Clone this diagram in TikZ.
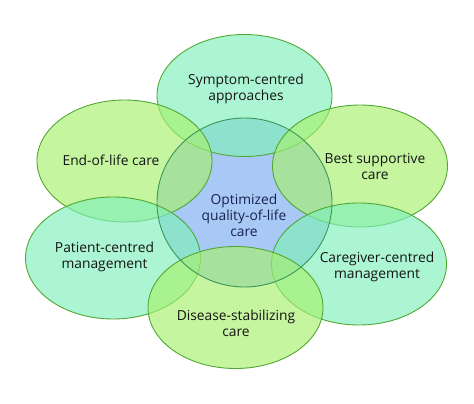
\documentclass[tikz,border=0pt]{standalone}
\usepackage{fontspec}
\setmainfont{Open Sans}
\usetikzlibrary{shapes.geometric}

\definecolor{limefill}{RGB}{167,240,109}
\definecolor{mintfill}{RGB}{127,240,186}
\definecolor{corefill}{RGB}{168,200,245}
\definecolor{rimline}{RGB}{82,168,52}
\definecolor{coreline}{RGB}{60,150,90}
\definecolor{coretext}{RGB}{24,36,78}

\begin{document}
\begin{tikzpicture}[x=1pt,y=-1pt,
    petal/.style={shape=ellipse,draw=rimline,line width=0.9pt,
        fill opacity=0.65,inner sep=0pt,
        minimum width=175pt,minimum height=122pt},
    lime/.style={petal,fill=limefill},
    mint/.style={petal,fill=mintfill},
    caption/.style={align=center,font=\fontsize{13.8}{16}\selectfont,
        text=black!92},
  ]
    \useasboundingbox (0,0) rectangle (474,404);

    \node (core)[shape=ellipse,fill=corefill,inner sep=0pt,
        minimum width=175pt,minimum height=169pt]
        at (244.5, 202.5) {};

    \node (symptom)[mint] at (244.5, 95.5) {};
    \node (endoflife)[lime] at (124.5, 161) {};
    \node (supportive)[lime] at (360, 166) {};
    \node (patient)[mint] at (113, 258) {};
    \node (caregiver)[mint] at (359, 264) {};
    \node (disease)[lime] at (235.5, 307.5) {};

    \node (corerim)[shape=ellipse,draw=coreline,line width=0.9pt,
        inner sep=0pt,minimum width=175pt,minimum height=169pt]
        at (core.center) {};

    % captions
    \node (symptomtext)[caption] at (246, 89)
        {Symptom-centred\\approaches};
    \node (endoflifetext)[caption] at (111, 160) {End-of-life care};
    \node (supportivetext)[caption] at (375, 167)
        {Best supportive\\care};
    \node (coretext)[caption,text=coretext] at (244, 215)
        {Optimized\\quality-of-life\\care};
    \node (patienttext)[caption] at (104.5, 257)
        {Patient-centred\\management};
    \node (caregivertext)[caption] at (377, 267)
        {Caregiver-centred\\management};
    \node (diseasetext)[caption] at (236, 323)
        {Disease-stabilizing\\care};
\end{tikzpicture}
\end{document}
